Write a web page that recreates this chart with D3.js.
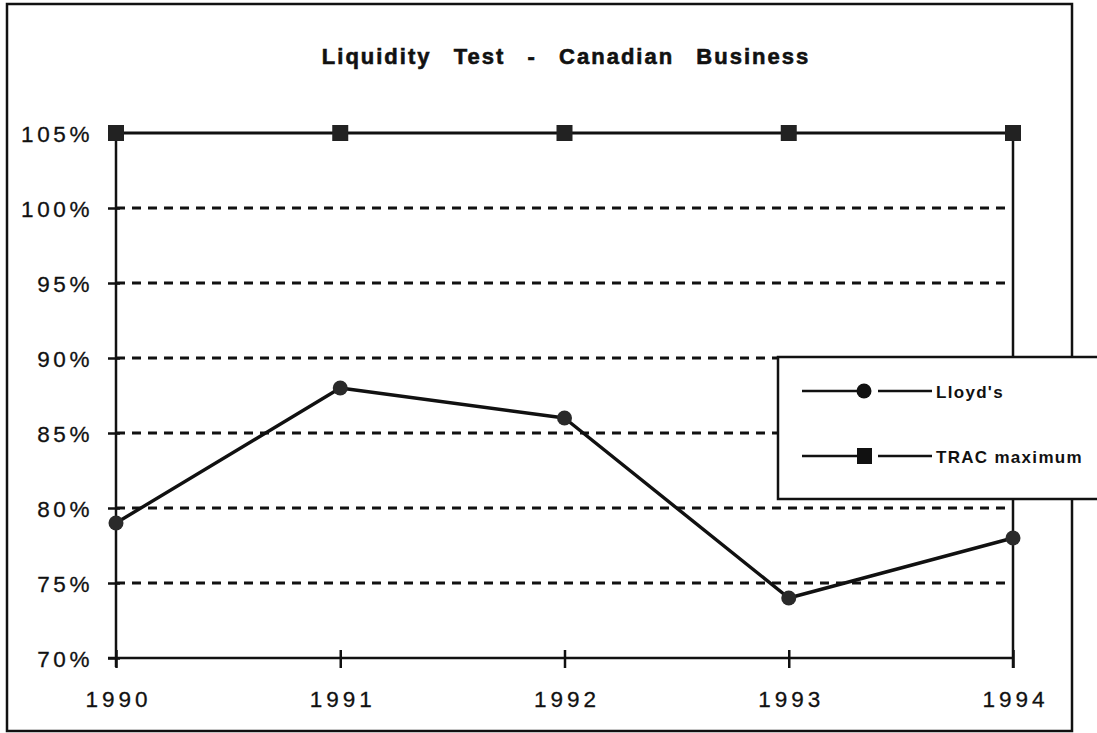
<!DOCTYPE html>
<html>
<head>
<meta charset="utf-8">
<script src="https://cdn.jsdelivr.net/npm/d3@7"></script>
<style>
  html, body { margin: 0; padding: 0; background: #fff; }
  svg { display: block; }
  text { font-family: "Liberation Sans", Arial, Helvetica, sans-serif; fill: #111; }
</style>
</head>
<body>
<svg id="chart" width="1097" height="733"></svg>
<script>
const years = ["1990", "1991", "1992", "1993", "1994"];
const lloyds = [79, 88, 86, 74, 78];
const tracMax = [105, 105, 105, 105, 105];
const yTicks = [70, 75, 80, 85, 90, 95, 100, 105];
const gridTicks = [75, 80, 85, 90, 95, 100];
const titleText = "Liquidity  Test  -  Canadian  Business";
const seriesNames = ["Lloyd's", "TRAC maximum"];

const svg = d3.select("#chart");
const ink = "#111";

// outer frame
svg.append("rect").attr("x", 7).attr("y", 4).attr("width", 1065).attr("height", 727)
  .attr("fill", "none").attr("stroke", ink).attr("stroke-width", 2.5);

const x = d3.scalePoint().domain(years).range([116, 1013]);
const y = d3.scaleLinear().domain([70, 105]).range([658, 133]);

// title
svg.append("text").attr("x", 566).attr("y", 64).attr("text-anchor", "middle")
  .attr("font-size", 22).attr("font-weight", "bold").style("white-space", "pre")
  .attr("letter-spacing", 2).attr("word-spacing", 3).attr("stroke", ink).attr("stroke-width", 0.6)
  .text(titleText);

// gridlines
svg.append("g").selectAll("line").data(gridTicks).join("line")
  .attr("x1", x("1990")).attr("x2", 1006)
  .attr("y1", d => y(d)).attr("y2", d => y(d))
  .attr("stroke", ink).attr("stroke-width", 3).attr("stroke-dasharray", "9,7");

// right vertical line at 1994
svg.append("line").attr("x1", x("1994")).attr("x2", x("1994"))
  .attr("y1", y(105)).attr("y2", y(70) + 10)
  .attr("stroke", ink).attr("stroke-width", 2.5);

// y axis
const yAxis = d3.axisLeft(y).tickValues(yTicks).tickFormat(d => d + "%").tickSize(8).tickPadding(18);
const gy = svg.append("g").attr("transform", `translate(${x("1990")},0)`).call(yAxis);
gy.select(".domain").remove();
gy.selectAll(".tick line").attr("x2", -8).attr("x1", 4).attr("stroke", ink).attr("stroke-width", 2.5);
gy.selectAll(".tick text").attr("font-size", 22.5).attr("letter-spacing", 3.6).attr("dy", "0.36em")
  .attr("x", -23).style("font-family", "'Liberation Sans', Arial, sans-serif")
  .attr("fill", ink).attr("stroke", ink).attr("stroke-width", 0.3);
svg.append("line").attr("x1", x("1990")).attr("x2", x("1990"))
  .attr("y1", y(105)).attr("y2", y(70) + 9).attr("stroke", ink).attr("stroke-width", 2.5);

// x axis
const xAxis = d3.axisBottom(x).tickSize(10).tickPadding(23);
const gx = svg.append("g").attr("transform", `translate(0,${y(70)})`).call(xAxis);
gx.select(".domain").remove();
gx.selectAll(".tick line").attr("y1", -8).attr("y2", 10).attr("stroke", ink).attr("stroke-width", 2.5);
gx.selectAll(".tick text").attr("font-size", 22.5).attr("letter-spacing", 4).attr("dy", "0.71em")
  .attr("dx", 2)
  .style("font-family", "'Liberation Sans', Arial, sans-serif")
  .attr("fill", ink).attr("stroke", ink).attr("stroke-width", 0.3);
svg.append("line").attr("x1", x("1990") - 8).attr("x2", x("1994"))
  .attr("y1", y(70)).attr("y2", y(70)).attr("stroke", ink).attr("stroke-width", 2.5);

// TRAC maximum series
const line = d3.line().x((d, i) => x(years[i])).y(d => y(d));
svg.append("path").datum(tracMax).attr("d", line).attr("fill", "none")
  .attr("stroke", ink).attr("stroke-width", 3);
svg.append("g").selectAll("rect").data(tracMax).join("rect")
  .attr("x", (d, i) => x(years[i]) - 8).attr("y", d => y(d) - 8)
  .attr("width", 16).attr("height", 16).attr("fill", "#222");

// Lloyd's series
svg.append("path").datum(lloyds).attr("d", line).attr("fill", "none")
  .attr("stroke", ink).attr("stroke-width", 3.4).attr("stroke-linejoin", "round");
svg.append("g").selectAll("circle").data(lloyds).join("circle")
  .attr("cx", (d, i) => x(years[i])).attr("cy", d => y(d)).attr("r", 7.5).attr("fill", "#2a2a2a");

// legend
const lg = svg.append("g");
lg.append("rect").attr("x", 778).attr("y", 357).attr("width", 340).attr("height", 142)
  .attr("fill", "#fff").attr("stroke", ink).attr("stroke-width", 2.5);
const legRows = seriesNames.map((n, i) => ({ name: n, yy: [391, 456][i], shape: i }));
const rows = lg.selectAll("g.row").data(legRows).join("g").attr("class", "row");
rows.append("line").attr("x1", 802).attr("x2", 860).attr("y1", d => d.yy).attr("y2", d => d.yy)
  .attr("stroke", ink).attr("stroke-width", 2.5);
rows.append("line").attr("x1", 878).attr("x2", 932).attr("y1", d => d.yy).attr("y2", d => d.yy)
  .attr("stroke", ink).attr("stroke-width", 2.5);
rows.filter(d => d.shape === 0).append("circle").attr("cx", 864).attr("cy", d => d.yy).attr("r", 7.5).attr("fill", ink);
rows.filter(d => d.shape === 1).append("rect").attr("x", 857).attr("y", d => d.yy - 8)
  .attr("width", 15).attr("height", 16).attr("fill", ink);
rows.append("text").attr("x", 936).attr("y", d => d.yy).attr("dy", "0.4em")
  .attr("font-size", 17).attr("font-weight", "bold").attr("letter-spacing", 1.3)
  .text(d => d.name);
</script>
</body>
</html>
